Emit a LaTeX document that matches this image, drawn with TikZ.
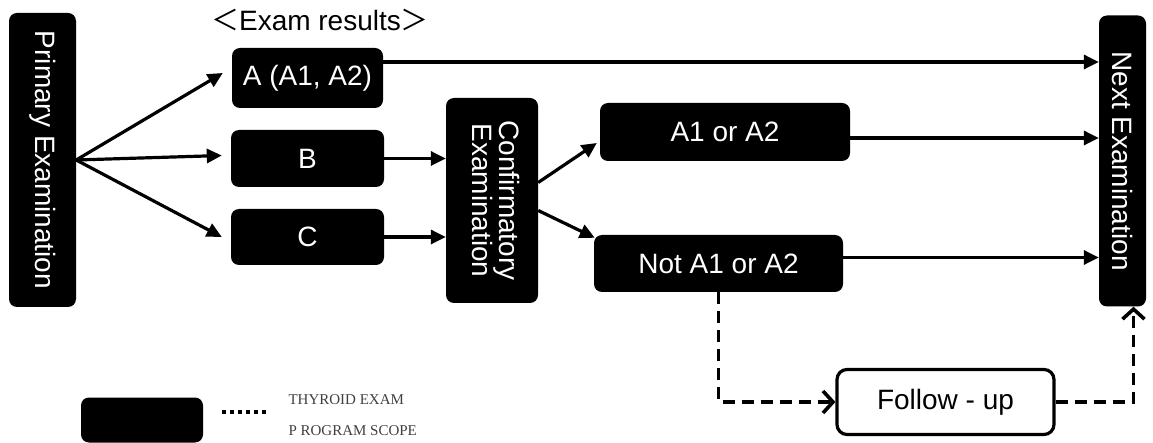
\documentclass[tikz,border=0pt]{standalone}
\usepackage{fontspec}
\setmainfont{Liberation Sans}
\newfontfamily\cjk{Noto Sans CJK JP}
\newfontfamily\legendfont{Liberation Serif}
\usetikzlibrary{arrows.meta,calc}
\begin{document}
\begin{tikzpicture}[x=1pt, y=-1pt, font=\fontsize{28}{28}\selectfont,
    box/.style={fill=black, text=white, rounded corners=8pt, inner sep=0pt},
    arr/.style={-{Triangle[length=15pt,width=14pt]}, line width=3.2pt},
    darr/.style={-{Straight Barb[length=10pt,width=22pt,line width=3.6pt]}, line width=3.8pt, dash pattern=on 12pt off 7pt}]
    \useasboundingbox (0,0) rectangle (1153,443);
    % boxes
    \node[box, minimum width=67pt, minimum height=294pt] (prim) at (42.5,160) {\rotatebox{-90}{Primary Examination}};
    \node (title) at (320,20) {{\cjk ＜}Exam results{\cjk ＞}};
    \node[box, minimum width=151pt, minimum height=60pt] (resa) at (307.5,78) {A (A1, A2)};
    \node[box, minimum width=153pt, minimum height=57pt] (resb) at (307.5,158.5) {B};
    \node[box, minimum width=153pt, minimum height=56pt] (resc) at (307.5,237) {C};
    \node[box, minimum width=92pt, minimum height=205pt] (conf) at (492,200.5)
        {\rotatebox{-90}{\begin{tabular}{@{}c@{}}Confirmatory\\[-1pt]Examination\end{tabular}}};
    \node[box, minimum width=250pt, minimum height=58pt] (a12) at (725,132) {A1 or A2};
    \node[box, minimum width=249pt, minimum height=57pt] (nota) at (718.5,263.5) {Not A1 or A2};
    \node[box, minimum width=47pt, minimum height=291pt] (next) at (1122.5,161) {\rotatebox{-90}{Next Examination}};
    \node[draw, line width=3.2pt, rounded corners=10pt, minimum width=217pt, minimum height=65pt] (follow) at (945.5,402) {Follow - up};
    % arrows
    \draw[arr] (prim.east) -- ($(resa.west)+(-9,-5)$);
    \draw[arr] (prim.east) -- ($(resb.west)+(-9,-3)$);
    \draw[arr] (prim.east) -- ($(resc.west)+(-9,0)$);
    \draw[arr] ([yshift=16pt]resa.east) -- ([yshift=16pt]resa.east -| next.west);
    \draw[arr] (resb.east) -- (resb.east -| conf.west);
    \draw[arr] (resc.east) -- (resc.east -| conf.west);
    \draw[arr] ($(conf.east)+(0,-18)$) -- ($(a12.west)+(-3,11)$);
    \draw[arr] ($(conf.east)+(0,10)$) -- ($(nota.north west)+(1,3)$);
    \draw[arr] ([yshift=-6pt]a12.east) -- ([yshift=-6pt]a12.east -| next.west);
    \draw[arr] ([yshift=6pt]nota.east) -- ([yshift=6pt]nota.east -| next.west);
    \draw[darr] (nota.south) |- (follow.west);
    \draw[darr] (follow.east) -| ([xshift=11pt]next.south);
    % legend
    \node[box, minimum width=122pt, minimum height=45pt] (legbox) at (142,420) {};
    \draw[line width=3.5pt, dash pattern=on 3.5pt off 4.5pt] ($(legbox.east)+(19,-8)$) -- ++(48,0);
    \node[font=\legendfont\fontsize{15}{31}\selectfont, text=black!75, align=left, anchor=west] (legtext) at (285,415)
        {THYROID EXAM\\P ROGRAM SCOPE};
\end{tikzpicture}
\end{document}
